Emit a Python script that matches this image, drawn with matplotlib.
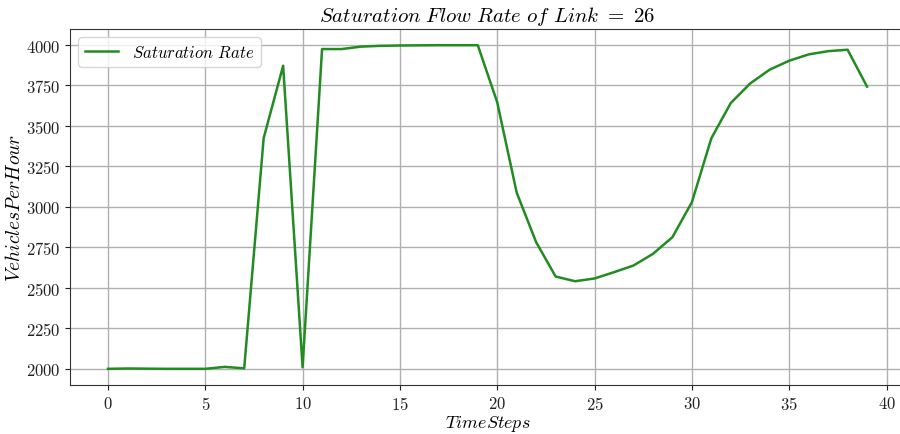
import numpy as np
import matplotlib
matplotlib.use("Agg")
import matplotlib.pyplot as plt

plt.rcParams['font.family'] = 'serif'
plt.rcParams['font.serif'] = ['cmr10']
plt.rcParams['mathtext.fontset'] = 'cm'
plt.rcParams['axes.formatter.use_mathtext'] = True

link_id = 26
time_steps = np.arange(40)
saturation_rate = [2000, 2002, 2001, 2000, 2000, 2000, 2012, 2003, 3425, 3872,
                   2010, 3975, 3975, 3990, 3995, 3997, 3998, 3999, 3999, 3999,
                   3646, 3088, 2782, 2570, 2541, 2558, 2597, 2638, 2710, 2813,
                   3029, 3424, 3642, 3763, 3848, 3903, 3942, 3962, 3971, 3743]

fig = plt.figure(figsize=(9, 4.35), dpi=100)
ax = fig.add_axes([70 / 900, 1 - 386 / 435, 835 / 900, 356 / 435])

ax.plot(time_steps, saturation_rate, color='forestgreen', linewidth=1.8,
        label=r'$Saturation\ Rate$')

ax.grid(True, color='#b0b0b0', linewidth=1.0)
ax.set_axisbelow(True)
for side in ['left', 'bottom', 'top']:
    ax.spines[side].set_color('#333333')
ax.spines['right'].set_visible(False)

ax.set_yticks(np.arange(2000, 4001, 250))
ax.set_xticks(np.arange(0, 41, 5))
ax.tick_params(labelsize=12, colors='#222222')

ax.set_title(r'$Saturation\ Flow\ Rate\ of\ Link\ =\ %d$' % link_id, fontsize=15)
ax.set_xlabel(r'$TimeSteps$', fontsize=13, labelpad=1)
ax.set_ylabel(r'$VehiclesPerHour$', fontsize=14, labelpad=1)
ax.legend(loc='upper left', fontsize=12)

fig.savefig('out.png', dpi=100)
